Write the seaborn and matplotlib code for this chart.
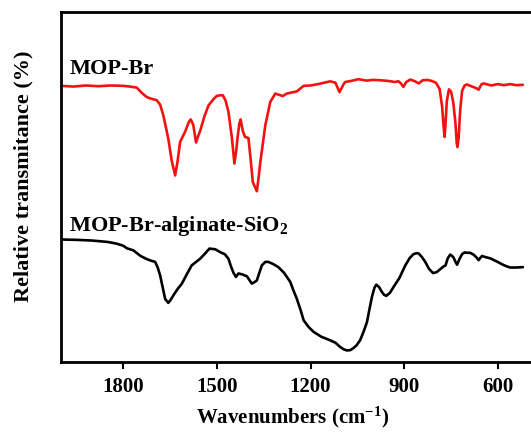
import matplotlib
matplotlib.use("Agg")
import matplotlib.pyplot as plt
import seaborn as sns
import pandas as pd

# FTIR spectra: wavenumber (cm-1) and relative transmittance (arbitrary offset units)
mop_br_wn = [2000, 1960, 1920, 1880, 1840, 1800, 1780, 1757, 1740, 1725, 1710, 1693, 1682,
             1672, 1663, 1656, 1645, 1634, 1626, 1618, 1602, 1590, 1584, 1576, 1567, 1560,
             1554, 1540, 1527, 1512, 1501, 1490, 1481, 1472, 1463, 1452, 1444, 1438, 1434,
             1428, 1424, 1417, 1410, 1399, 1392, 1385, 1378, 1372, 1366, 1361, 1345, 1329,
             1313, 1300, 1289, 1276, 1260, 1244, 1222, 1200, 1170, 1137, 1120, 1107, 1095,
             1089, 1070, 1046, 1020, 1000, 976, 950, 930, 918, 910, 902, 893, 880, 865, 853,
             840, 825, 811, 798, 790, 786, 778, 773, 770, 767, 763, 756, 749, 742, 735, 731,
             729, 725, 720, 714, 706, 698, 685, 670, 661, 652, 645, 620, 600, 580, 560, 540, 519]
mop_br_t = [78.9, 78.7, 79.0, 78.8, 79.0, 78.9, 78.7, 78.4, 76.8, 75.7, 75.2, 74.8, 73.5,
            70.5, 66.8, 63.8, 57.5, 53.3, 57.5, 62.9, 65.8, 68.6, 69.3, 67.8, 62.7, 64.6,
            66.0, 70.2, 73.3, 75.0, 76.0, 76.2, 76.2, 74.6, 71.4, 64.0, 56.7, 60.5, 64.0,
            68.2, 69.3, 66.0, 64.3, 64.0, 58.0, 51.4, 50.0, 48.8, 53.0, 57.0, 67.6, 74.3,
            76.7, 76.3, 76.0, 76.7, 77.0, 77.3, 78.9, 79.0, 79.5, 80.2, 79.8, 77.1, 79.2,
            80.0, 80.3, 80.8, 80.4, 80.6, 80.5, 80.3, 80.0, 80.2, 79.6, 78.6, 80.0, 80.7,
            80.2, 79.6, 80.5, 80.6, 80.3, 79.8, 78.6, 78.0, 73.0, 67.0, 64.3, 68.0, 74.5,
            77.9, 77.2, 74.0, 68.0, 62.5, 61.4, 64.0, 72.0, 77.4, 79.0, 79.3, 78.8, 78.3,
            77.8, 79.3, 79.6, 79.0, 79.4, 79.1, 79.4, 79.1, 79.2]

composite_wn = [2000, 1950, 1900, 1850, 1821, 1800, 1789, 1768, 1745, 1725, 1710, 1698,
                1690, 1682, 1672, 1666, 1656, 1648, 1640, 1625, 1613, 1597, 1581, 1554,
                1540, 1524, 1505, 1490, 1475, 1463, 1455, 1447, 1439, 1431, 1418, 1404,
                1395, 1388, 1380, 1372, 1364, 1356, 1345, 1335, 1320, 1303, 1285, 1265,
                1255, 1244, 1232, 1222, 1205, 1190, 1165, 1137, 1120, 1105, 1093, 1083,
                1072, 1062, 1052, 1041, 1030, 1019, 1010, 1003, 995, 989, 980, 971, 964,
                957, 945, 934, 915, 896, 882, 870, 860, 853, 843, 832, 820, 807, 795, 783,
                775, 767, 760, 752, 746, 741, 735, 730, 722, 714, 706, 698, 688, 676, 668,
                661, 655, 650, 640, 623, 600, 581, 570, 560, 540, 519]
composite_t = [35.0, 34.9, 34.7, 34.3, 33.8, 33.2, 32.5, 31.9, 30.3, 29.4, 28.9, 28.6,
               27.0, 24.7, 20.5, 18.0, 16.9, 17.8, 19.0, 21.0, 22.3, 25.0, 27.6, 29.5,
               30.8, 32.4, 32.2, 31.4, 30.8, 29.5, 27.3, 25.5, 24.3, 25.3, 25.0, 24.5,
               23.3, 22.4, 22.8, 23.3, 25.5, 27.6, 28.6, 28.6, 28.0, 27.1, 25.5, 22.9,
               20.5, 18.1, 14.9, 11.9, 9.9, 8.6, 7.2, 6.2, 5.5, 4.3, 3.6, 3.3, 3.4, 4.0,
               4.8, 6.2, 8.6, 11.4, 15.5, 18.6, 21.2, 22.1, 21.4, 20.0, 19.2, 18.9, 19.8,
               21.4, 24.0, 27.6, 29.7, 30.8, 31.1, 31.0, 30.0, 28.6, 26.6, 25.4, 25.7,
               26.6, 27.2, 27.6, 29.6, 30.7, 30.3, 29.8, 28.6, 27.8, 29.5, 30.8, 31.3,
               31.2, 31.2, 30.6, 29.9, 29.1, 29.8, 30.3, 30.0, 29.6, 28.6, 27.7, 27.3,
               27.0, 27.0, 27.1]

series_names = ["MOP-Br", "MOP-Br-alginate-SiO$_\\mathregular{2}$"]
x_ticks = [1800, 1500, 1200, 900, 600]

sns.set_style("ticks", {"axes.edgecolor": "black", "text.color": "black",
                        "xtick.color": "black", "ytick.color": "black",
                        "axes.labelcolor": "black"})
plt.rcParams["font.family"] = ["Liberation Serif", "DejaVu Serif"]
plt.rcParams["font.weight"] = "bold"
plt.rcParams["mathtext.default"] = "regular"

fig = plt.figure(figsize=(5.31, 4.39), dpi=100)
ax = fig.add_axes([61 / 531, 76 / 439, 499 / 531, 350 / 439])

df_red = pd.DataFrame({"wn": mop_br_wn, "t": mop_br_t})
df_black = pd.DataFrame({"wn": composite_wn, "t": composite_t})
sns.lineplot(data=df_red, x="wn", y="t", color="#f21212", linewidth=1.9,
             sort=False, estimator=None, ax=ax)
sns.lineplot(data=df_black, x="wn", y="t", color="black", linewidth=1.9,
             sort=False, estimator=None, ax=ax)

ax.set_xlim(2000, 400)
ax.set_ylim(0, 100)
ax.set_xticks(x_ticks)
ax.set_xticklabels([str(v) for v in x_ticks], fontsize=15, fontweight="bold",
                   color="black")
ax.set_yticks([])
ax.tick_params(axis="x", direction="out", length=5, width=1.5, pad=5, color="black")
for s in ax.spines.values():
    s.set_linewidth(2.0)
    s.set_color("black")
ax.set_xlabel("")
ax.set_ylabel("")

ax.text(0.017, 0.826, series_names[0], transform=ax.transAxes, fontsize=16,
        fontweight="bold", ha="left", va="baseline", color="black")
ax.text(0.017, 0.377, series_names[1], transform=ax.transAxes, fontsize=16,
        fontweight="bold", ha="left", va="baseline", color="black")

fig.text(293 / 531, 1 - 417 / 439, "Wavenumbers (cm$^{\\mathregular{-1}}$)",
         ha="center", va="center", fontsize=15, fontweight="bold", color="black")
fig.text(23 / 531, 1 - 176 / 439, "Relative transmitance (%)", rotation=90,
         ha="center", va="center", fontsize=16, fontweight="bold", color="black")

fig.savefig("out.png", dpi=100)
